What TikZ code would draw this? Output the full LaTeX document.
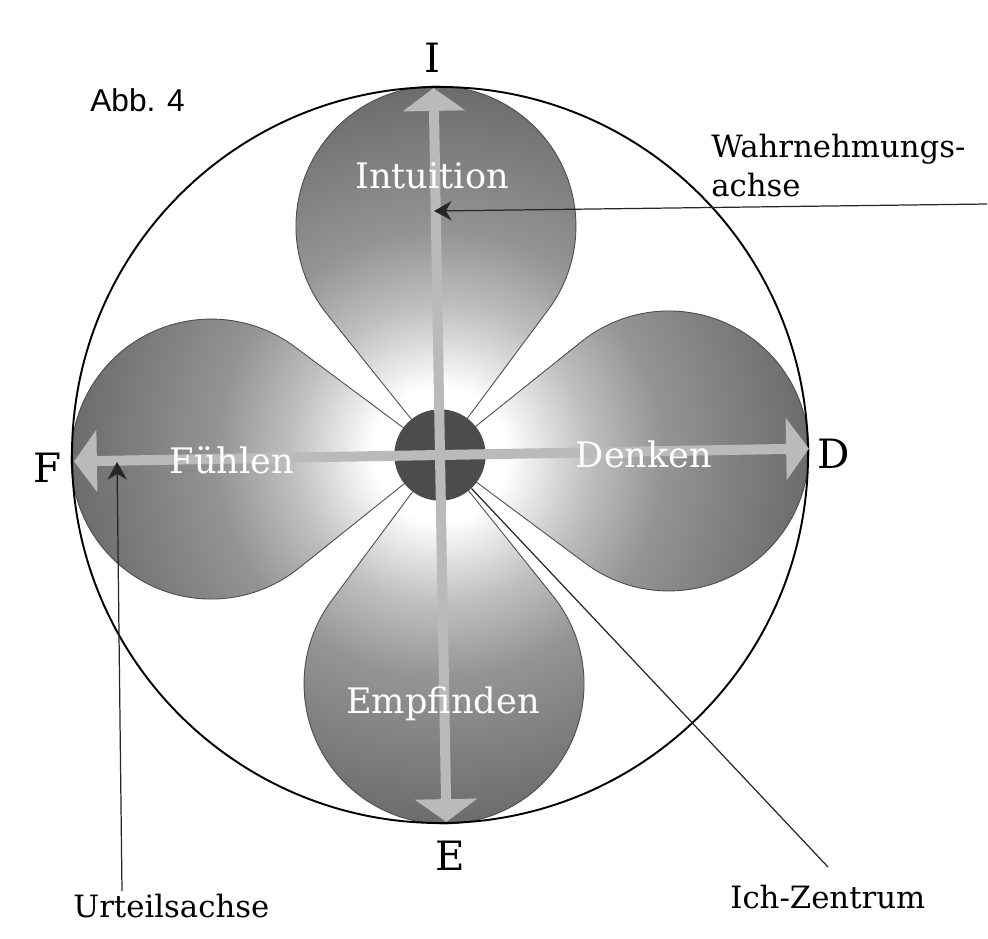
\documentclass[tikz,border=0pt]{standalone}
\usepackage{fontspec}
\setmainfont{DejaVu Serif}
\newfontfamily\abbfont{Liberation Sans}
\usetikzlibrary{arrows.meta}

\pgfdeclareradialshading{petalshade}{\pgfpoint{0bp}{0bp}}{color(0bp)=(white); color(4.5bp)=(white); color(10bp)=(black!25); color(15bp)=(black!42); color(25bp)=(black!58); color(50bp)=(black!58)}

\tikzset{
  petal/.style={draw=black!70, line width=0.5pt},
  axisarrow/.style={draw=black!27, line width=5.7pt, {Triangle[length=13pt,width=35pt]}-{Triangle[length=13pt,width=35pt]}},
  leader/.style={draw=black!85, line width=0.7pt},
  leadertip/.style={-{Stealth[length=10pt,width=11pt]}},
  petallabel/.style={text=white, font=\fontsize{20}{24}\selectfont, anchor=base, inner sep=0pt},
  polelabel/.style={font=\fontsize{23}{28}\selectfont, anchor=base, inner sep=0pt},
  axislabel/.style={font=\fontsize{17.5}{22}\selectfont, inner sep=0pt}
}

\begin{document}
\begin{tikzpicture}[x=0.02cm, y=-0.02cm]
        \useasboundingbox (0,0) rectangle (988,938);
        % 中心
        \coordinate (O) at (440,455);

        \begin{scope}[shift={(O)}, rotate=1]
            % 四个花瓣
            \foreach \a in {0,90,180,270}{
                \begin{scope}[rotate=\a]
                    \begin{scope}
                        \clip (0,0) -- (143.3,110.7) arc[start angle=127.7, end angle=-127.7, radius=140] -- cycle;
                        \shade[shading=petalshade] (0,0) circle (368);
                    \end{scope}
                    \draw[petal] (0,0) -- (143.3,110.7) arc[start angle=127.7, end angle=-127.7, radius=140] -- cycle;
                \end{scope}
            }

            % 外圆与中心圆
            \draw[line width=1.1pt] (0,0) circle (368);
            \node[circle, fill=black!70, minimum size=52pt, inner sep=0pt] (ich) at (0,0) {};

            % 轴的端点
            \coordinate (Itip) at (0,-367);
            \coordinate (Etip) at (0,367);
            \coordinate (Ftip) at (-366,0);
            \coordinate (Dtip) at (369,0);

            % 两条轴
            \draw[axisarrow] (Ftip) -- (Dtip);
            \draw[axisarrow] (Itip) -- (Etip);
        \end{scope}

        % 花瓣标签
        \node[petallabel] (intu) at (432,188) {Intuition};
        \node[petallabel] (fuehl) at (232,473) {Fühlen};
        \node[petallabel] (denk) at (644,467) {Denken};
        \node[petallabel] (empf) at (443,713) {Empfinden};

        % 端点标签
        \node[polelabel] (pI) at (432,72) {I};
        \node[polelabel] (pE) at (450,870) {E};
        \node[polelabel] (pF) at (48,482) {F};
        \node[polelabel] (pD) at (834,468) {D};

        \node[font=\abbfont\fontsize{18}{22}\selectfont, anchor=base west, inner sep=0pt] (abb) at (90,111) {Abb. 4};

        % 说明文字与引线
        \node[axislabel, align=left, anchor=north west] (wahr) at (711,134) {Wahrnehmungs-\\achse};
        \coordinate (wahrEnd) at (987,204);
        \coordinate (wahrTip) at (434,211);
        \draw[leader, leadertip] (wahrEnd) -- (wahrTip);

        \node[axislabel, anchor=base west] (urteil) at (73,917) {Urteilsachse};
        \coordinate (urteilEnd) at (122,891);
        \coordinate (urteilTip) at (117,462);
        \draw[leader, leadertip] (urteilEnd) -- (urteilTip);

        \node[axislabel, anchor=base west] (ichtext) at (730,908) {Ich-Zentrum};
        \coordinate (ichEnd) at (828,867);
        \draw[leader] (ichEnd) -- (ich);
\end{tikzpicture}
\end{document}
